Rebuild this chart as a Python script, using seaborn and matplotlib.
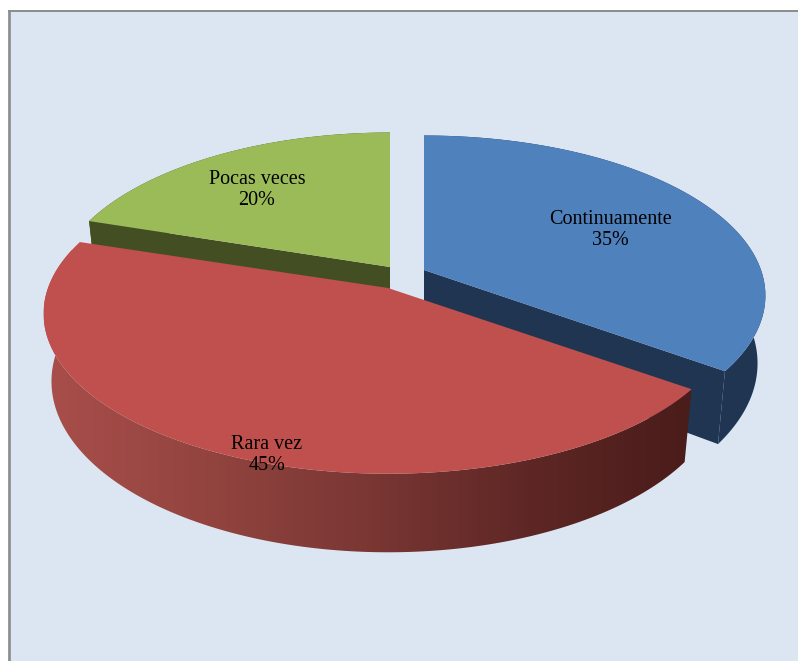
import numpy as np
import matplotlib.pyplot as plt
import seaborn as sns
from matplotlib.colors import LinearSegmentedColormap
from matplotlib.patches import Polygon, Rectangle

# data
labels = ['Continuamente', 'Rara vez', 'Pocas veces']
values = [35, 45, 20]

sns.set_theme(style='white')
plt.rcParams['font.family'] = ['Liberation Serif', 'DejaVu Serif']

top_colors = sns.color_palette(['#4F81BD', '#C0504D', '#9BBB59'])
side_colors = sns.color_palette(['#1F3552', '#4A1C1A', '#434F22'])
bg = '#DCE6F2'
frame = '#8C8C8C'

# geometry of the fake 3D pie, in pixels
centers = [(424, 270), (388, 288), (390, 267)]
widths = [337, 340, 332]
B = 156
K = 0.16      # perspective strength
H = 66        # thickness
SHRINK = 0.977   # lower face is a bit narrower
label_pos = [(610, 230), (267, 455), (257, 190)]


def project(center, a, phi):
    # phi clockwise from 12 o'clock, radians
    s = 1 / (1 + K * np.cos(phi))
    return center[0] + a * np.sin(phi) * s, center[1] - B * np.cos(phi) * s


def lower(center, a, phi):
    x, y = project(center, a, phi)
    s = 1 / (1 + K * np.cos(phi))
    return center[0] + (x - center[0]) * SHRINK, y + H * s


fig = plt.figure(figsize=(7.98, 6.61), dpi=100, facecolor='white')
ax = fig.add_axes([0, 0, 1, 1])
ax.set_xlim(0, 798)
ax.set_ylim(661, 0)
ax.axis('off')

ax.add_patch(Rectangle((8, 10), 790, 651, fc=bg, ec='none', zorder=0))
ax.plot([9, 9], [661, 11], color=frame, lw=1.9, zorder=1, solid_capstyle='butt')
ax.plot([8, 798], [11, 11], color=frame, lw=1.4, zorder=1, solid_capstyle='butt')

fracs = np.array(values) / sum(values)
starts = np.concatenate([[0], np.cumsum(fracs)[:-1]]) * 2 * np.pi
ends = np.cumsum(fracs) * 2 * np.pi
red_map = LinearSegmentedColormap.from_list(
    'red_side', ['#A94E4B', '#93443F', '#7A3734', '#5E2725', '#4A1C1A'])

# draw order: blue, green, then red on top
for i, z in [(0, 2), (2, 4), (1, 6)]:
    c, a = centers[i], widths[i]
    phis = np.linspace(starts[i], ends[i], 200)
    up = np.array([project(c, a, p) for p in phis])
    low = np.array([lower(c, a, p) for p in phis])

    wall = np.vstack([up, low[::-1]])
    if i == 1:
        poly = Polygon(wall, fc='none', ec='none')
        ax.add_patch(poly)
        grad = np.linspace(0, 1, 256).reshape(1, -1)
        im = ax.imshow(grad, extent=[44, 691, 600, 250], aspect='auto',
                       cmap=red_map, zorder=z)
        im.set_clip_path(poly)
        ax.set_xlim(0, 798)
        ax.set_ylim(661, 0)
    else:
        ax.fill(wall[:, 0], wall[:, 1], color=side_colors[i], lw=0, zorder=z)

    # inner walls
    for p in (starts[i], ends[i]):
        if i == 1:
            continue
        x, y = project(c, a, p)
        xl, yl = lower(c, a, p)
        ax.fill([c[0], x, xl, c[0]], [c[1], y, yl, c[1] + H],
                color=side_colors[i], lw=0, zorder=z)

    xs = np.concatenate([[c[0]], up[:, 0]])
    ys = np.concatenate([[c[1]], up[:, 1]])
    ax.fill(xs, ys, color=top_colors[i], lw=0, zorder=z + 1)

for i, (x, y) in enumerate(label_pos):
    ax.text(x, y, f'{labels[i]}\n{values[i]}%', ha='center', va='center',
            fontsize=14.5, color='black', linespacing=1.15, zorder=10)

fig.savefig('out.png', dpi=100)
